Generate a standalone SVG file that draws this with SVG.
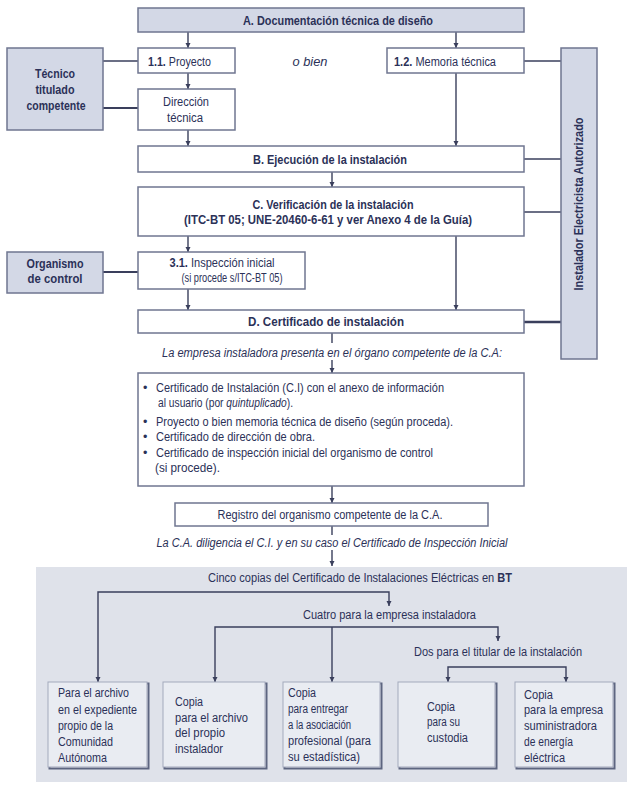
<svg xmlns="http://www.w3.org/2000/svg" width="640" height="792" viewBox="0 0 640 792">
<style>
.box{fill:#ffffff;stroke:#6f7690;stroke-width:1.5}
.gbox{fill:#d3d8e6;stroke:#6f7690;stroke-width:1.5}
.sh{fill:none;stroke:#5d6580;stroke-width:2}
.cbox{fill:#e9ecf2;stroke:#a3a9bc;stroke-width:1}
.t{font-family:"Liberation Sans",Arial,sans-serif;font-size:12.5px;fill:#2b3158}
.m{text-anchor:middle}
.b{font-weight:bold}
.i{font-style:italic}
.c{stroke:#3a3f5c;stroke-width:1.4;fill:none}
.ca{stroke:#3a3f5c;stroke-width:1.4;fill:none;marker-end:url(#ah)}
</style>
<defs>
<marker id="ah" markerUnits="userSpaceOnUse" markerWidth="6" markerHeight="6" refX="5" refY="3" orient="auto">
<path d="M0,0.5 L5,3 L0,5.5 z" fill="#3a3f5c"/>
</marker>
</defs>
<rect width="640" height="792" fill="#ffffff"/>
<rect id="panel" x="36" y="567" width="591" height="215" fill="#dfe2ea"/>

<g id="connectors">
<path class="ca" d="M188,32 V48"/>
<path class="ca" d="M456,32 V48"/>
<path class="ca" d="M188,73 V89"/>
<path class="ca" d="M188,130 V146"/>
<path class="ca" d="M456,73 V146"/>
<path class="c" d="M103,61 H138"/>
<path class="c" d="M103,108 H138" style="stroke-width:2"/>
<path class="c" d="M524,61 H561"/>
<path class="c" d="M524,159 H561"/>
<path class="ca" d="M332,172 V187"/>
<path class="c" d="M524,212 H561"/>
<path class="ca" d="M188,236 V252"/>
<path class="c" d="M103,272 H138" style="stroke-width:2"/>
<path class="ca" d="M188,289 V310"/>
<path class="ca" d="M456,236 V310"/>
<path class="c" d="M524,322 H561" style="stroke-width:2.4"/>
<path class="c" d="M332,333 V343"/>
<path class="ca" d="M332,360 V373"/>
<path class="ca" d="M332,486 V503"/>
<path class="c" d="M332,526 V535"/>
<path class="ca" d="M332,550 V566"/>
<path class="ca" d="M240,592 H98 V682"/>
<path class="ca" d="M240,592 H389 V606"/>
<path class="ca" d="M332,627 H215 V682"/>
<path class="ca" d="M332,627 V682"/>
<path class="ca" d="M332,627 H498 V641"/>
<path class="ca" d="M500,667 H448 V682"/>
<path class="ca" d="M500,667 H566 V682"/>
</g>

<g id="nodeA"><rect class="gbox" x="138" y="8" width="386" height="24"/>
<text class="t m b" x="338" y="24.5" textLength="190" lengthAdjust="spacingAndGlyphs">A. Documentación técnica de diseño</text></g>

<g id="tecnico"><rect class="gbox" x="7" y="48" width="96" height="82"/>
<text class="t m b" x="55" y="78" textLength="40" lengthAdjust="spacingAndGlyphs">Técnico</text>
<text class="t m b" x="55" y="94" textLength="39" lengthAdjust="spacingAndGlyphs">titulado</text>
<text class="t m b" x="56" y="110" textLength="59" lengthAdjust="spacingAndGlyphs">competente</text></g>

<g id="proyecto"><rect class="box" x="138" y="48" width="97" height="25"/>
<text class="t" x="148" y="65.5" textLength="63" lengthAdjust="spacingAndGlyphs"><tspan class="b">1.1.</tspan> Proyecto</text></g>

<text id="obien" class="t m i" x="310" y="65.5" textLength="35" lengthAdjust="spacingAndGlyphs">o bien</text>

<g id="memoria"><rect class="box" x="387" y="48" width="137" height="25"/>
<text class="t" x="394" y="65.5" textLength="102" lengthAdjust="spacingAndGlyphs"><tspan class="b">1.2.</tspan> Memoria técnica</text></g>

<g id="direccion"><rect class="box" x="138" y="89" width="97" height="41"/>
<text class="t m" x="186" y="106" textLength="46" lengthAdjust="spacingAndGlyphs">Dirección</text>
<text class="t m" x="185" y="122" textLength="36" lengthAdjust="spacingAndGlyphs">técnica</text></g>

<g id="nodeB"><rect class="box" x="138" y="146" width="386" height="26"/>
<text class="t m b" x="330" y="163.5" textLength="154" lengthAdjust="spacingAndGlyphs">B. Ejecución de la instalación</text></g>

<g id="nodeC"><rect class="box" x="138" y="187" width="386" height="49"/>
<text class="t m b" x="333" y="208.5" textLength="161" lengthAdjust="spacingAndGlyphs">C. Verificación de la instalación</text>
<text class="t m b" x="328" y="223.5" textLength="288" lengthAdjust="spacingAndGlyphs">(ITC-BT 05; UNE-20460-6-61 y ver Anexo 4 de la Guía)</text></g>

<g id="organismo"><rect class="gbox" x="7" y="252" width="96" height="41"/>
<text class="t m b" x="55" y="267.5" textLength="57" lengthAdjust="spacingAndGlyphs">Organismo</text>
<text class="t m b" x="55" y="282.5" textLength="55" lengthAdjust="spacingAndGlyphs">de control</text></g>

<g id="inspeccion"><rect class="box" x="138" y="252" width="167" height="37"/>
<text class="t m" x="222" y="266.5" textLength="105" lengthAdjust="spacingAndGlyphs"><tspan class="b">3.1.</tspan> Inspección inicial</text>
<text class="t m" x="232" y="281.5" textLength="101" lengthAdjust="spacingAndGlyphs">(si procede s/ITC-BT 05)</text></g>

<g id="nodeD"><rect class="box" x="138" y="310" width="386" height="23"/>
<text class="t m b" x="326" y="326" textLength="156" lengthAdjust="spacingAndGlyphs">D. Certificado de instalación</text></g>

<g id="instalador"><rect class="gbox" x="561" y="48" width="36" height="311"/>
<text class="t m b" transform="translate(583,204) rotate(-90)" x="0" y="0" textLength="173" lengthAdjust="spacingAndGlyphs">Instalador Electricista Autorizado</text></g>

<text class="t m i" x="332" y="357" textLength="340" lengthAdjust="spacingAndGlyphs">La empresa instaladora presenta en el órgano competente de la C.A:</text>

<g id="lista"><rect class="box" x="138" y="373" width="386" height="113"/>
<text class="t" x="143" y="392">•</text>
<text class="t" x="156" y="392" textLength="288" lengthAdjust="spacingAndGlyphs">Certificado de Instalación (C.I) con el anexo de información</text>
<text class="t" x="158" y="407" textLength="135" lengthAdjust="spacingAndGlyphs">al usuario (por <tspan class="i">quintuplicado</tspan>).</text>
<text class="t" x="143" y="426">•</text>
<text class="t" x="156" y="426" textLength="297" lengthAdjust="spacingAndGlyphs">Proyecto o bien memoria técnica de diseño (según proceda).</text>
<text class="t" x="143" y="440.5">•</text>
<text class="t" x="156" y="440.5" textLength="159" lengthAdjust="spacingAndGlyphs">Certificado de dirección de obra.</text>
<text class="t" x="143" y="457">•</text>
<text class="t" x="156" y="457" textLength="277" lengthAdjust="spacingAndGlyphs">Certificado de inspección inicial del organismo de control</text>
<text class="t" x="155" y="471.5" textLength="65" lengthAdjust="spacingAndGlyphs">(si procede).</text></g>

<g id="registro"><rect class="box" x="175" y="503" width="313" height="23"/>
<text class="t m" x="330" y="519" textLength="225" lengthAdjust="spacingAndGlyphs">Registro del organismo competente de la C.A.</text></g>

<text class="t m i" x="332" y="547" textLength="351" lengthAdjust="spacingAndGlyphs">La C.A. diligencia el C.I. y en su caso el Certificado de Inspección Inicial</text>

<text class="t m" x="360" y="582" textLength="304" lengthAdjust="spacingAndGlyphs">Cinco copias del Certificado de Instalaciones Eléctricas en <tspan class="b">BT</tspan></text>
<text class="t m" x="389.5" y="619" textLength="173" lengthAdjust="spacingAndGlyphs">Cuatro para la empresa instaladora</text>
<text class="t m" x="498" y="656" textLength="168" lengthAdjust="spacingAndGlyphs">Dos para el titular de la instalación</text>

<g id="copia1"><rect class="sh" x="49.5" y="683.5" width="99" height="85"/><rect class="cbox" x="48" y="682" width="99" height="85"/>
<text class="t" x="58" y="697" textLength="71" lengthAdjust="spacingAndGlyphs">Para el archivo</text>
<text class="t" x="58" y="714" textLength="79" lengthAdjust="spacingAndGlyphs">en el expediente</text>
<text class="t" x="58" y="730" textLength="55" lengthAdjust="spacingAndGlyphs">propio de la</text>
<text class="t" x="58" y="746" textLength="55" lengthAdjust="spacingAndGlyphs">Comunidad</text>
<text class="t" x="58" y="762" textLength="49" lengthAdjust="spacingAndGlyphs">Autónoma</text></g>

<g id="copia2"><rect class="sh" x="164.5" y="683.5" width="102" height="85"/><rect class="cbox" x="163" y="682" width="102" height="85"/>
<text class="t" x="175" y="706" textLength="28" lengthAdjust="spacingAndGlyphs">Copia</text>
<text class="t" x="175" y="721.5" textLength="73" lengthAdjust="spacingAndGlyphs">para el archivo</text>
<text class="t" x="175" y="737" textLength="50" lengthAdjust="spacingAndGlyphs">del propio</text>
<text class="t" x="175" y="753" textLength="48" lengthAdjust="spacingAndGlyphs">instalador</text></g>

<g id="copia3"><rect class="sh" x="284.5" y="683.5" width="97" height="85"/><rect class="cbox" x="283" y="682" width="97" height="85"/>
<text class="t" x="288" y="697" textLength="28" lengthAdjust="spacingAndGlyphs">Copia</text>
<text class="t" x="288" y="713" textLength="60" lengthAdjust="spacingAndGlyphs">para entregar</text>
<text class="t" x="288" y="729" textLength="63" lengthAdjust="spacingAndGlyphs">a la asociación</text>
<text class="t" x="288" y="745" textLength="83" lengthAdjust="spacingAndGlyphs">profesional (para</text>
<text class="t" x="288" y="761" textLength="72" lengthAdjust="spacingAndGlyphs">su estadística)</text></g>

<g id="copia4"><rect class="sh" x="399.5" y="683.5" width="97" height="85"/><rect class="cbox" x="398" y="682" width="97" height="85"/>
<text class="t" x="427" y="711" textLength="28" lengthAdjust="spacingAndGlyphs">Copia</text>
<text class="t" x="427" y="726" textLength="33" lengthAdjust="spacingAndGlyphs">para su</text>
<text class="t" x="427" y="742" textLength="41" lengthAdjust="spacingAndGlyphs">custodia</text></g>

<g id="copia5"><rect class="sh" x="516.5" y="683.5" width="98" height="85"/><rect class="cbox" x="515" y="682" width="98" height="85"/>
<text class="t" x="524" y="699" textLength="29" lengthAdjust="spacingAndGlyphs">Copia</text>
<text class="t" x="524" y="714" textLength="79" lengthAdjust="spacingAndGlyphs">para la empresa</text>
<text class="t" x="524" y="730" textLength="73" lengthAdjust="spacingAndGlyphs">suministradora</text>
<text class="t" x="524" y="746" textLength="49" lengthAdjust="spacingAndGlyphs">de energía</text>
<text class="t" x="524" y="762" textLength="41" lengthAdjust="spacingAndGlyphs">eléctrica</text></g>
</svg>
